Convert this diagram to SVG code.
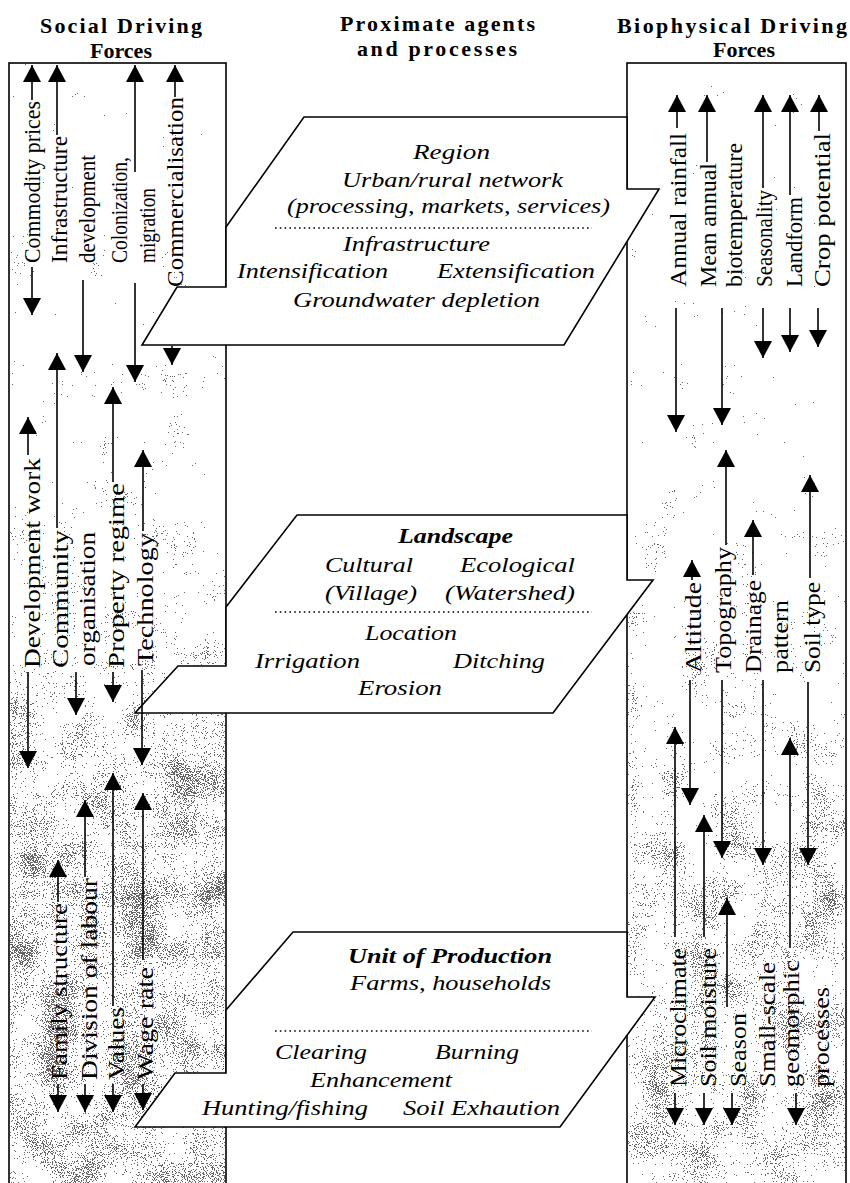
<svg xmlns="http://www.w3.org/2000/svg" width="850" height="1183" viewBox="0 0 850 1183">
<style>
.bg{fill:#fff}
.col{fill:none;stroke:#000;stroke-width:1.6}
.node{fill:#fff;stroke:#000;stroke-width:1.6;stroke-linejoin:miter}
.dots{stroke:#000;stroke-width:1.3;stroke-dasharray:1.6 3.2;fill:none}
.c{stroke:#000;stroke-width:1.6;fill:none;marker-end:url(#ah)}
.h{font-family:"Liberation Serif","Times New Roman",serif;font-weight:bold;font-size:22px;fill:#000}
.m{text-anchor:middle}
.v{font-family:"Liberation Serif","Times New Roman",serif;font-size:24px;fill:#000}
.i{font-family:"Liberation Serif","Times New Roman",serif;font-style:italic;font-size:20px;fill:#000}
.b{font-weight:bold}
</style>
<defs>
<marker id="ah" viewBox="0 0 17 18" refX="17" refY="9" markerWidth="17" markerHeight="18" markerUnits="userSpaceOnUse" orient="auto">
<path d="M0,0 L17,9 L0,18 z" fill="#000"/>
</marker>
<linearGradient id="gL" gradientUnits="userSpaceOnUse" x1="0" y1="63" x2="0" y2="1183">
<stop offset="0" stop-color="#000" stop-opacity="0"/>
<stop offset="0.21" stop-color="#000" stop-opacity="0.2"/>
<stop offset="0.44" stop-color="#000" stop-opacity="0.35"/>
<stop offset="0.57" stop-color="#000" stop-opacity="0.65"/>
<stop offset="0.66" stop-color="#000" stop-opacity="0.9"/>
<stop offset="1" stop-color="#000" stop-opacity="0.9"/>
</linearGradient>
<linearGradient id="gR" gradientUnits="userSpaceOnUse" x1="0" y1="63" x2="0" y2="1183">
<stop offset="0" stop-color="#000" stop-opacity="0"/>
<stop offset="0.39" stop-color="#000" stop-opacity="0.2"/>
<stop offset="0.57" stop-color="#000" stop-opacity="0.45"/>
<stop offset="0.7" stop-color="#000" stop-opacity="0.75"/>
<stop offset="1" stop-color="#000" stop-opacity="0.75"/>
</linearGradient>
<filter id="stip" x="0" y="0" width="1" height="1" color-interpolation-filters="sRGB">
<feTurbulence type="fractalNoise" baseFrequency="0.9" numOctaves="2" seed="7" result="hi"/>
<feColorMatrix in="hi" type="matrix" values="0 0 0 0 0 0 0 0 0 0 0 0 0 0 0 1 0 0 0 0" result="hiA"/>
<feTurbulence type="fractalNoise" baseFrequency="0.025" numOctaves="2" seed="3" result="lo"/>
<feColorMatrix in="lo" type="matrix" values="0 0 0 0 0 0 0 0 0 0 0 0 0 0 0 1 0 0 0 0" result="loA"/>
<feComposite in="loA" in2="SourceGraphic" operator="arithmetic" k1="0" k2="0.5" k3="0.3" k4="-0.15" result="bb"/>
<feComposite in="hiA" in2="bb" operator="arithmetic" k1="0" k2="1" k3="1" k4="-0.5" result="aa"/>
<feComponentTransfer in="aa">
<feFuncA type="discrete" tableValues="0 0.6"/>
</feComponentTransfer>
</filter>
</defs>
<rect class="bg" x="0" y="0" width="850" height="1183"/>

<g id="stipple">
<rect x="10" y="64" width="215" height="1125" fill="url(#gL)" filter="url(#stip)"/>
<rect x="628" y="64" width="217" height="1125" fill="url(#gR)" filter="url(#stip)"/>
</g>

<g id="social-driving-forces">
<rect class="col" x="9" y="63" width="217" height="1135"/>
<text class="h" x="40" y="33" textLength="162">Social Driving</text>
<text class="h m" x="121" y="58">Forces</text>
</g>

<g id="biophysical-driving-forces">
<rect class="col" x="627" y="63" width="219" height="1135"/>
<text class="h" x="617" y="33" textLength="230">Biophysical Driving</text>
<text class="h m" x="744" y="57">Forces</text>
</g>

<g id="proximate-header">
<text class="h" x="340" y="31" textLength="195">Proximate agents</text>
<text class="h" x="357" y="56" textLength="160">and processes</text>
</g>

<g id="region">
<polygon class="node" points="142,345 177,287 226,287 226,227 304,117 627,117 627,189 659,189 564,345"/>
<text class="i" x="413" y="159" textLength="77" lengthAdjust="spacingAndGlyphs">Region</text>
<text class="i" x="342" y="187" textLength="221" lengthAdjust="spacingAndGlyphs">Urban/rural network</text>
<text class="i" x="287" y="213" textLength="323" lengthAdjust="spacingAndGlyphs">(processing, markets, services)</text>
<line class="dots" x1="275" y1="228" x2="592" y2="228"/>
<text class="i" x="343" y="251" textLength="147" lengthAdjust="spacingAndGlyphs">Infrastructure</text>
<text class="i" x="237" y="278" textLength="151" lengthAdjust="spacingAndGlyphs">Intensification</text>
<text class="i" x="437" y="278" textLength="158" lengthAdjust="spacingAndGlyphs">Extensification</text>
<text class="i" x="293" y="307" textLength="247" lengthAdjust="spacingAndGlyphs">Groundwater depletion</text>
</g>

<g id="landscape">
<polygon class="node" points="135,713 178,666 226,666 226,607 297,515 627,515 627,580 653,580 553,713"/>
<text class="i b" x="398" y="543" textLength="115" lengthAdjust="spacingAndGlyphs">Landscape</text>
<text class="i" x="325" y="572" textLength="88" lengthAdjust="spacingAndGlyphs">Cultural</text>
<text class="i" x="460" y="572" textLength="115" lengthAdjust="spacingAndGlyphs">Ecological</text>
<text class="i" x="325" y="600" textLength="92" lengthAdjust="spacingAndGlyphs">(Village)</text>
<text class="i" x="445" y="600" textLength="130" lengthAdjust="spacingAndGlyphs">(Watershed)</text>
<line class="dots" x1="275" y1="612" x2="592" y2="612"/>
<text class="i" x="365" y="640" textLength="92" lengthAdjust="spacingAndGlyphs">Location</text>
<text class="i" x="255" y="668" textLength="105" lengthAdjust="spacingAndGlyphs">Irrigation</text>
<text class="i" x="453" y="668" textLength="92" lengthAdjust="spacingAndGlyphs">Ditching</text>
<text class="i" x="358" y="695" textLength="84" lengthAdjust="spacingAndGlyphs">Erosion</text>
</g>

<g id="unit-of-production">
<polygon class="node" points="135,1127 175,1073 226,1073 226,1010 293,932 627,932 627,997 655,997 560,1127"/>
<text class="i b" x="348" y="963" textLength="204" lengthAdjust="spacingAndGlyphs">Unit of Production</text>
<text class="i" x="350" y="990" textLength="201" lengthAdjust="spacingAndGlyphs">Farms, households</text>
<line class="dots" x1="275" y1="1031" x2="592" y2="1031"/>
<text class="i" x="275" y="1059" textLength="92" lengthAdjust="spacingAndGlyphs">Clearing</text>
<text class="i" x="435" y="1059" textLength="84" lengthAdjust="spacingAndGlyphs">Burning</text>
<text class="i" x="310" y="1087" textLength="142" lengthAdjust="spacingAndGlyphs">Enhancement</text>
<text class="i" x="202" y="1115" textLength="166" lengthAdjust="spacingAndGlyphs">Hunting/fishing</text>
<text class="i" x="403" y="1115" textLength="157" lengthAdjust="spacingAndGlyphs">Soil Exhaution</text>
</g>

<g id="connectors">
<line class="c" x1="32" y1="100" x2="32" y2="65"/>
<line class="c" x1="32" y1="267" x2="32" y2="315"/>
<line class="c" x1="57" y1="135" x2="57" y2="65"/>
<line class="c" x1="83" y1="280" x2="83" y2="372"/>
<line class="c" x1="135" y1="172" x2="135" y2="65"/>
<line class="c" x1="135" y1="283" x2="135" y2="382"/>
<line class="c" x1="175" y1="97" x2="175" y2="65"/>
<line class="c" x1="172" y1="346" x2="172" y2="365"/>
<line class="c" x1="28" y1="455" x2="28" y2="417"/>
<line class="c" x1="28" y1="672" x2="28" y2="768"/>
<line class="c" x1="57" y1="528" x2="57" y2="353"/>
<line class="c" x1="76" y1="672" x2="76" y2="715"/>
<line class="c" x1="113" y1="482" x2="113" y2="387"/>
<line class="c" x1="113" y1="672" x2="113" y2="702"/>
<line class="c" x1="143" y1="531" x2="143" y2="450"/>
<line class="c" x1="142" y1="670" x2="142" y2="765"/>
<line class="c" x1="58" y1="902" x2="58" y2="860"/>
<line class="c" x1="58" y1="1084" x2="58" y2="1112"/>
<line class="c" x1="85" y1="877" x2="85" y2="800"/>
<line class="c" x1="85" y1="1084" x2="85" y2="1112"/>
<line class="c" x1="113" y1="1006" x2="113" y2="773"/>
<line class="c" x1="113" y1="1084" x2="113" y2="1112"/>
<line class="c" x1="143" y1="960" x2="143" y2="793"/>
<line class="c" x1="143" y1="1084" x2="143" y2="1110"/>
<line class="c" x1="677" y1="128" x2="677" y2="95"/>
<line class="c" x1="676" y1="308" x2="676" y2="432"/>
<line class="c" x1="707" y1="162" x2="707" y2="95"/>
<line class="c" x1="722" y1="308" x2="722" y2="425"/>
<line class="c" x1="763" y1="188" x2="763" y2="95"/>
<line class="c" x1="763" y1="308" x2="763" y2="358"/>
<line class="c" x1="790" y1="195" x2="790" y2="95"/>
<line class="c" x1="790" y1="308" x2="790" y2="352"/>
<line class="c" x1="819" y1="131" x2="819" y2="95"/>
<line class="c" x1="818" y1="308" x2="818" y2="347"/>
<line class="c" x1="692" y1="580" x2="692" y2="560"/>
<line class="c" x1="690" y1="680" x2="690" y2="805"/>
<line class="c" x1="726" y1="545" x2="726" y2="450"/>
<line class="c" x1="722" y1="680" x2="722" y2="858"/>
<line class="c" x1="753" y1="575" x2="753" y2="520"/>
<line class="c" x1="763" y1="680" x2="763" y2="865"/>
<line class="c" x1="810" y1="578" x2="810" y2="475"/>
<line class="c" x1="808" y1="682" x2="808" y2="865"/>
<line class="c" x1="675" y1="937" x2="675" y2="727"/>
<line class="c" x1="675" y1="1093" x2="675" y2="1125"/>
<line class="c" x1="704" y1="937" x2="704" y2="815"/>
<line class="c" x1="704" y1="1093" x2="704" y2="1125"/>
<line class="c" x1="727" y1="1007" x2="727" y2="898"/>
<line class="c" x1="732" y1="1093" x2="732" y2="1125"/>
<line class="c" x1="790" y1="948" x2="790" y2="738"/>
<line class="c" x1="796" y1="1093" x2="796" y2="1125"/>
</g>

<g id="social-labels">
<text class="v" transform="translate(40,263) rotate(-90)" textLength="162" lengthAdjust="spacingAndGlyphs">Commodity prices</text>
<text class="v" transform="translate(67,263) rotate(-90)" textLength="127" lengthAdjust="spacingAndGlyphs">Infrastructure</text>
<text class="v" transform="translate(95,263) rotate(-90)" textLength="108" lengthAdjust="spacingAndGlyphs">development</text>
<text class="v" transform="translate(127,263) rotate(-90)" textLength="106" lengthAdjust="spacingAndGlyphs">Colonization,</text>
<text class="v" transform="translate(155,263) rotate(-90)" textLength="75" lengthAdjust="spacingAndGlyphs">migration</text>
<text class="v" transform="translate(183,287) rotate(-90)" textLength="190" lengthAdjust="spacingAndGlyphs">Commercialisation</text>
<text class="v" transform="translate(40,668) rotate(-90)" textLength="210" lengthAdjust="spacingAndGlyphs">Development work</text>
<text class="v" transform="translate(68,668) rotate(-90)" textLength="138" lengthAdjust="spacingAndGlyphs">Community</text>
<text class="v" transform="translate(95,666) rotate(-90)" textLength="134" lengthAdjust="spacingAndGlyphs">organisation</text>
<text class="v" transform="translate(124,668) rotate(-90)" textLength="185" lengthAdjust="spacingAndGlyphs">Property regime</text>
<text class="v" transform="translate(153,666) rotate(-90)" textLength="133" lengthAdjust="spacingAndGlyphs">Technology</text>
<text class="v" transform="translate(67,1080) rotate(-90)" textLength="177" lengthAdjust="spacingAndGlyphs">Family structure</text>
<text class="v" transform="translate(97,1080) rotate(-90)" textLength="202" lengthAdjust="spacingAndGlyphs">Division of labour</text>
<text class="v" transform="translate(124,1080) rotate(-90)" textLength="73" lengthAdjust="spacingAndGlyphs">Values</text>
<text class="v" transform="translate(153,1080) rotate(-90)" textLength="113" lengthAdjust="spacingAndGlyphs">Wage rate</text>
</g>

<g id="biophysical-labels">
<text class="v" transform="translate(686,287) rotate(-90)" textLength="154" lengthAdjust="spacingAndGlyphs">Annual rainfall</text>
<text class="v" transform="translate(716,287) rotate(-90)" textLength="124" lengthAdjust="spacingAndGlyphs">Mean annual</text>
<text class="v" transform="translate(742,287) rotate(-90)" textLength="144" lengthAdjust="spacingAndGlyphs">biotemperature</text>
<text class="v" transform="translate(772,287) rotate(-90)" textLength="97" lengthAdjust="spacingAndGlyphs">Seasonality</text>
<text class="v" transform="translate(802,287) rotate(-90)" textLength="90" lengthAdjust="spacingAndGlyphs">Landform</text>
<text class="v" transform="translate(830,287) rotate(-90)" textLength="154" lengthAdjust="spacingAndGlyphs">Crop potential</text>
<text class="v" transform="translate(701,673) rotate(-90)" textLength="91" lengthAdjust="spacingAndGlyphs">Altitude</text>
<text class="v" transform="translate(731,673) rotate(-90)" textLength="126" lengthAdjust="spacingAndGlyphs">Topography</text>
<text class="v" transform="translate(761,673) rotate(-90)" textLength="93" lengthAdjust="spacingAndGlyphs">Drainage</text>
<text class="v" transform="translate(788,673) rotate(-90)" textLength="73" lengthAdjust="spacingAndGlyphs">pattern</text>
<text class="v" transform="translate(820,673) rotate(-90)" textLength="91" lengthAdjust="spacingAndGlyphs">Soil type</text>
<text class="v" transform="translate(686,1087) rotate(-90)" textLength="139" lengthAdjust="spacingAndGlyphs">Microclimate</text>
<text class="v" transform="translate(716,1087) rotate(-90)" textLength="139" lengthAdjust="spacingAndGlyphs">Soil moisture</text>
<text class="v" transform="translate(746,1087) rotate(-90)" textLength="74" lengthAdjust="spacingAndGlyphs">Season</text>
<text class="v" transform="translate(775,1087) rotate(-90)" textLength="125" lengthAdjust="spacingAndGlyphs">Small-scale</text>
<text class="v" transform="translate(799,1087) rotate(-90)" textLength="127" lengthAdjust="spacingAndGlyphs">geomorphic</text>
<text class="v" transform="translate(829,1087) rotate(-90)" textLength="100" lengthAdjust="spacingAndGlyphs">processes</text>
</g>
</svg>
